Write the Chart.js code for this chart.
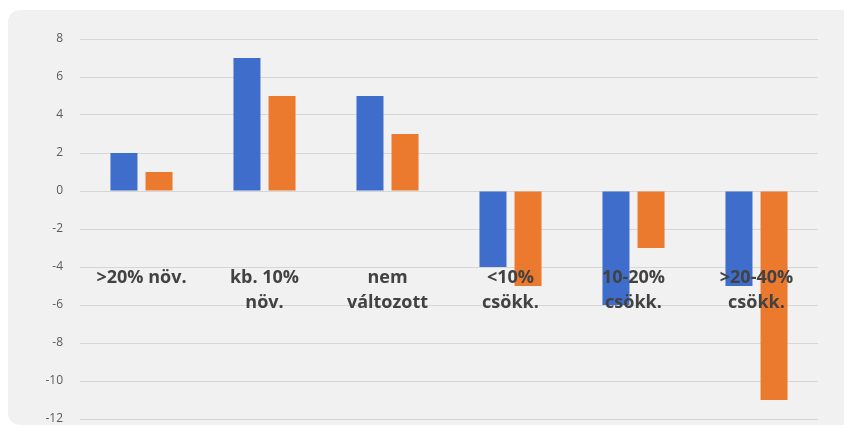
<!DOCTYPE html>
<html>
<head>
<meta charset="utf-8">
<script src="https://cdn.jsdelivr.net/npm/chart.js@4/dist/chart.umd.min.js"></script>
<style>
  html, body { margin: 0; padding: 0; background: #ffffff; overflow: hidden; }
  #wrap { position: relative; width: 844px; height: 434px; overflow: hidden; }
  #card { position: absolute; left: 8px; top: 10px; width: 850px; height: 415px; background: #f1f1f1; border-radius: 12px; }
  #clip { position: absolute; left: 0; top: 0; width: 844px; height: 422px; overflow: hidden; }
  #chart { position: absolute; left: 0; top: 0; }
</style>
</head>
<body>
<div id="wrap">
  <div id="card"></div>
  <div id="clip"><canvas id="chart" width="844" height="434"></canvas></div>
</div>
<script>
// categories (multi-line labels as arrays)
const categories = [
    '>20% növ.',
    ['kb. 10%', 'növ.'],
    ['nem', 'változott'],
    ['<10%', 'csökk.'],
    ['10-20%', 'csökk.'],
    ['>20-40%', 'csökk.']
];
const blueValues = [2, 7, 5, -4, -6, -5];
const orangeValues = [1, 5, 3, -5, -3, -11];
const yTicks = [8, 6, 4, 2, 0, -2, -4, -6, -8, -10, -12];

const ctx = document.getElementById('chart').getContext('2d');
new Chart(ctx, {
    type: 'bar',
    data: {
        labels: categories,
        datasets: [{
            data: blueValues,
            backgroundColor: '#3e6dcc',
            barPercentage: 0.77,
            categoryPercentage: 0.57
        }, {
            data: orangeValues,
            backgroundColor: '#ec7a2e',
            barPercentage: 0.77,
            categoryPercentage: 0.57
        }]
    },
    options: {
        responsive: false,
        animation: false,
        layout: { padding: { top: 39, bottom: 15, left: 0, right: 26 } },
        plugins: { legend: { display: false }, tooltip: { enabled: false } },
        scales: {
            x: {
                position: { y: -4 },
                // labels float inside the plot, so this axis takes no room
                afterFit: (scale) => {
                    scale.height = 0;
                    scale.paddingTop = 0;
                    scale.paddingBottom = 0;
                },
                grid: { display: false, drawTicks: false },
                border: { display: false },
                ticks: {
                    z: 1, // category names sit on top of the bars
                    padding: -2,
                    maxRotation: 0,
                    autoSkip: false,
                    color: '#424242',
                    font: { family: 'Open Sans', size: 18, weight: 'bold', lineHeight: 1.39 }
                }
            },
            y: {
                min: -12,
                max: 8,
                afterBuildTicks: (scale) => { scale.ticks = yTicks.map(v => ({ value: v })); },
                afterFit: (scale) => {
                    scale.width = 80;
                    scale.paddingTop = 0;
                    scale.paddingBottom = 0;
                },
                grid: { color: '#d6d6d6', lineWidth: 1, drawTicks: false },
                border: { display: false },
                ticks: {
                    padding: 17,
                    color: '#5a5a5a',
                    font: { family: 'Open Sans', size: 12 }
                }
            }
        }
    }
});
</script>
</body>
</html>
